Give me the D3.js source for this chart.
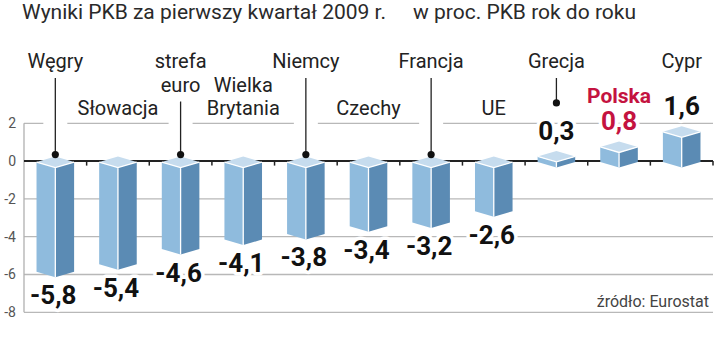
<!DOCTYPE html>
<html>
<head>
<meta charset="utf-8">
<script src="https://cdn.jsdelivr.net/npm/d3@7"></script>
<style>
  html, body { margin: 0; padding: 0; background: #fff; }
  svg { display: block; }
  text { font-family: Roboto, "Liberation Sans", sans-serif; }
</style>
</head>
<body>
<svg id="chart" width="720" height="341"></svg>
<script>
// GDP results, Q1 2009, % change year on year
const countries = ["Węgry", "Słowacja", "strefa euro", "Wielka Brytania", "Niemcy", "Czechy", "Francja", "UE", "Grecja", "Polska", "Cypr"];
const labelLines = [["Węgry"], ["Słowacja"], ["strefa", "euro"], ["Wielka", "Brytania"], ["Niemcy"], ["Czechy"], ["Francja"], ["UE"], ["Grecja"], ["Polska"], ["Cypr"]];
const values = [-5.8, -5.4, -4.6, -4.1, -3.8, -3.4, -3.2, -2.6, 0.3, 0.8, 1.6];
const yTicks = [2, 0, -2, -4, -6, -8];
const highlight = "Polska";
const title = "Wyniki PKB za pierwszy kwartał 2009 r.";
const subtitle = "w proc. PKB rok do roku";
const source = "źródło: Eurostat";

const svg = d3.select("#chart");
const fmt = v => String(v).replace(".", ",");
const ARIAL = "'Liberation Sans', Arial, sans-serif";

const x = d3.scaleBand().domain(countries).range([24, 713]).paddingInner(0.4).paddingOuter(0.2);
const y = d3.scaleLinear().domain([-8, 2]).range([312.3, 123.3]);
const cx = name => x(name) + x.bandwidth() / 2;
const step = x.step();

const RED = "#c41340";
const halfW = x.bandwidth() / 2;
const dh = 5.5;

// title
svg.append("text").attr("x", 22).attr("y", 19)
  .attr("font-family", ARIAL).attr("font-size", 21).attr("fill", "#2a2a2a").text(title);
svg.append("text").attr("x", 413).attr("y", 19)
  .attr("font-family", ARIAL).attr("font-size", 21).attr("fill", "#2a2a2a").text(subtitle);

// gridlines
const g = svg.append("g");
g.selectAll("line.grid").data(yTicks.filter(t => t !== 0)).join("line")
  .attr("class", "grid")
  .attr("x1", 24).attr("x2", 713)
  .attr("y1", d => y(d)).attr("y2", d => y(d))
  .attr("stroke", "#b8b8b8").attr("stroke-width", 1.3);

// y axis line
g.append("line").attr("x1", 24).attr("x2", 24).attr("y1", y(2)).attr("y2", y(-8))
  .attr("stroke", "#b0b0b0").attr("stroke-width", 1.3);

// tick labels
g.selectAll("text.tick").data(yTicks).join("text")
  .attr("class", "tick")
  .attr("x", 16).attr("y", d => y(d))
  .attr("dy", "0.35em")
  .attr("text-anchor", "end")
  .attr("font-size", 14).attr("fill", "#555")
  .text(d => d);

// zero line with ticks between categories
g.append("line").attr("x1", 24).attr("x2", 713).attr("y1", y(0)).attr("y2", y(0))
  .attr("stroke", "#222").attr("stroke-width", 2);
g.selectAll("line.zt").data(countries).join("line")
  .attr("class", "zt")
  .attr("x1", d => cx(d) + step / 2).attr("x2", d => cx(d) + step / 2)
  .attr("y1", y(0)).attr("y2", y(0) + 4.5)
  .attr("stroke", "#222").attr("stroke-width", 1.5);

// 3D bars
const data = countries.map((c, i) => ({ name: c, value: values[i], lines: labelLines[i], i }));
const bars = svg.append("g").selectAll("g").data(data).join("g");
bars.each(function (d) {
  const b = d3.select(this);
  const c = cx(d.name);
  const yT = y(Math.max(d.value, 0)) + 1;
  const yB = y(Math.min(d.value, 0)) + 1;
  b.append("path")
    .attr("d", `M${c - halfW},${yT}L${c},${yT + dh}L${c},${yB + dh}L${c - halfW},${yB}Z`)
    .attr("fill", "#8fbbdd");
  b.append("path")
    .attr("d", `M${c},${yT + dh}L${c + halfW},${yT}L${c + halfW},${yB}L${c},${yB + dh}Z`)
    .attr("fill", "#5b8bb4");
  b.append("path")
    .attr("d", `M${c - halfW},${yT}L${c},${yT - dh}L${c + halfW},${yT}L${c},${yT + dh}Z`)
    .attr("fill", "#c6dcee");
  b.append("path")
    .attr("d", `M${c - halfW},${yT}L${c},${yT + dh}L${c + halfW},${yT}M${c},${yT + dh}L${c},${yB + dh}`)
    .attr("fill", "none").attr("stroke", "#fff").attr("stroke-width", 1.3);
});

// category labels
const rows = [68, 91.5, 115];
const lab = svg.append("g");
data.forEach(d => {
  const c = cx(d.name);
  const isHi = d.name === highlight;
  let baselines;
  if (d.value > 0 && d.i % 2 === 1) {
    const vb = y(d.value) + 1 - dh - 11;
    baselines = [vb - 27];
  } else if (d.i % 2 === 0) {
    baselines = d.lines.map((_, k) => rows[k]);
  } else {
    baselines = d.lines.map((_, k) => rows[3 - d.lines.length + k]);
  }
  d.lines.forEach((t, k) => {
    lab.append("text").attr("x", c).attr("y", baselines[k])
      .attr("text-anchor", "middle")
      .attr("font-size", isHi ? 21 : 20)
      .attr("font-weight", isHi ? 700 : 400)
      .attr("font-family", isHi ? ARIAL : null)
      .attr("fill", isHi ? RED : "#222")
      .text(t);
  });
  // leader from name down to the bar (even slots, except the last)
  if (d.i % 2 === 0 && d.i < countries.length - 1) {
    const top = baselines[baselines.length - 1] + 10;
    const dotY = d.value < 0 ? y(0) - 6.5 : y(d.value) + 1 - dh - 48;
    lab.append("line").attr("x1", c).attr("x2", c).attr("y1", top).attr("y2", dotY - 4)
      .attr("stroke", "#fff").attr("stroke-width", 24);
    lab.append("line").attr("x1", c).attr("x2", c).attr("y1", top).attr("y2", dotY)
      .attr("stroke", "#222").attr("stroke-width", 1.3);
    lab.append("circle").attr("cx", c).attr("cy", dotY).attr("r", 3.6).attr("fill", "#111");
  }
});

// value labels
svg.append("g").selectAll("text").data(data).join("text")
  .attr("x", d => cx(d.name) - (d.value < 0 ? 2 : 0))
  .attr("y", d => d.value < 0 ? y(d.value) + 1 + dh + 27 : y(d.value) + 1 - dh - 11)
  .attr("text-anchor", "middle")
  .attr("font-family", ARIAL)
  .attr("font-weight", 700)
  .attr("font-size", 26)
  .attr("fill", d => d.name === highlight ? RED : "#111")
  .attr("stroke", "#fff").attr("stroke-width", 7).attr("paint-order", "stroke")
  .attr("stroke-linejoin", "round")
  .text(d => fmt(d.value));

// source
svg.append("text").attr("x", 709).attr("y", 307)
  .attr("text-anchor", "end").attr("font-family", ARIAL)
  .attr("font-size", 16).attr("fill", "#444")
  .text(source);
</script>
</body>
</html>
